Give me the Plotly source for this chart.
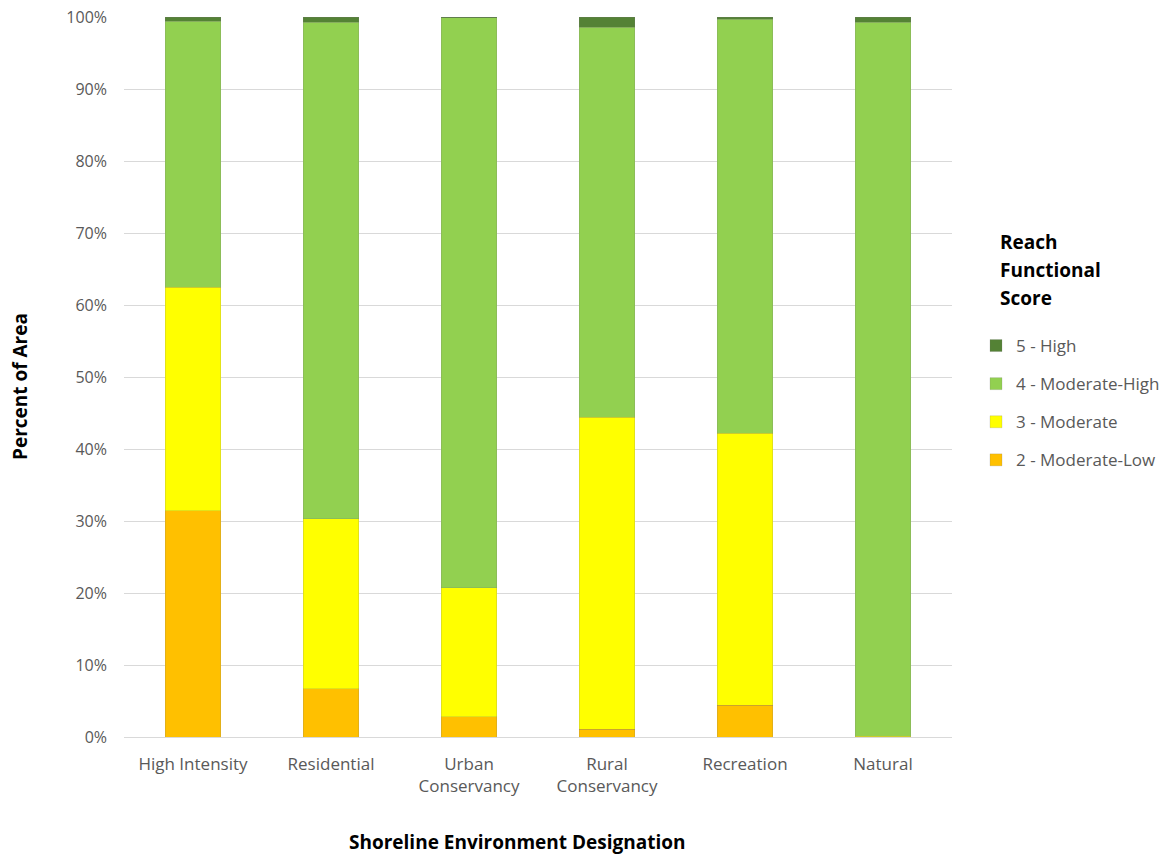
import plotly.graph_objects as go

# Shoreline environment designations (x categories)
designations = ["High Intensity", "Residential", "Urban<br>Conservancy",
                "Rural<br>Conservancy", "Recreation", "Natural"]

# Percent of area in each reach functional score class
score_2_moderate_low = [31.4, 6.7, 2.8, 1.1, 4.4, 0.0]
score_3_moderate = [31.1, 23.6, 17.9, 43.3, 37.8, 0.1]
score_4_moderate_high = [36.9, 69.0, 79.2, 54.2, 57.5, 99.2]
score_5_high = [0.6, 0.7, 0.1, 1.4, 0.3, 0.7]

y_tick_values = [0, 10, 20, 30, 40, 50, 60, 70, 80, 90, 100]
y_tick_labels = [f"{v}%" for v in y_tick_values]

legend_title_lines = ["Reach", "Functional", "Score"]

series = [
    ("2 - Moderate-Low", score_2_moderate_low, "#FFC000", 4),
    ("3 - Moderate", score_3_moderate, "#FFFF00", 3),
    ("4 - Moderate-High", score_4_moderate_high, "#92D050", 2),
    ("5 - High", score_5_high, "#548235", 1),
]

FONT = "Open Sans"
fig = go.Figure()
for name, values, color, rank in series:
    fig.add_trace(go.Bar(
        x=designations, y=values, name=name, legendgroup=name, legendrank=rank,
        marker=dict(color=color, line=dict(color="rgba(120,120,120,0.35)", width=0.6)),
    ))

W, H = 1171, 856
L, R, T, B = 124, 219, 17, 119
PW, PH = W - L - R, H - T - B

annotations = [
    dict(text="<b>Shoreline Environment Designation</b>",
         xref="paper", yref="paper", x=(517 - L) / PW, y=-(842 - 737) / PH,
         xanchor="center", yanchor="middle", showarrow=False,
         font=dict(family=FONT, size=19, color="black")),
    dict(text="<b>Percent of Area</b>", textangle=-90,
         xref="paper", yref="paper", x=-(L - 20) / PW, y=(737 - 387) / PH,
         xanchor="center", yanchor="middle", showarrow=False,
         font=dict(family=FONT, size=19, color="black")),
]
# Legend heading, one line per annotation for wider line spacing
for i, line in enumerate(legend_title_lines):
    annotations.append(dict(
        text=f"<b>{line}</b>", xref="paper", yref="paper",
        x=(998 - L) / PW, y=(737 - (242 + 28 * i)) / PH,
        xanchor="left", yanchor="middle", showarrow=False,
        font=dict(family=FONT, size=19, color="black"),
    ))

fig.update_layout(
    width=W, height=H,
    barmode="stack", bargap=0.6,
    plot_bgcolor="white", paper_bgcolor="white",
    margin=dict(l=L, r=R, t=T, b=B, autoexpand=False),
    font=dict(family=FONT, size=16, color="#595959"),
    xaxis=dict(showgrid=False, showline=False, ticks="", ticklabelstandoff=15,
               tickfont=dict(size=17, color="#595959")),
    yaxis=dict(
        range=[0, 100], tickvals=y_tick_values, ticktext=y_tick_labels,
        showgrid=True, gridcolor="#D9D9D9", gridwidth=1.3, zeroline=True,
        zerolinecolor="#D9D9D9", zerolinewidth=1.3, showline=False, ticks="",
        ticklabelstandoff=16, tickfont=dict(size=16, color="#595959"),
    ),
    legend=dict(
        xref="container", yref="container",
        x=976 / W, y=1 - 328 / H, xanchor="left", yanchor="top",
        traceorder="grouped", tracegroupgap=13,
        font=dict(size=17, color="#595959"),
        itemwidth=30,
    ),
    annotations=annotations,
)

fig.write_html("out.html")
